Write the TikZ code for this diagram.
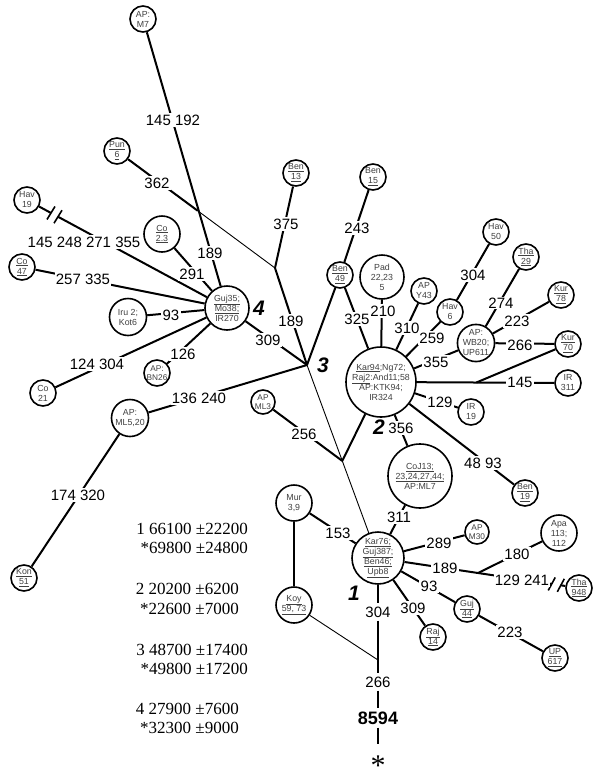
\documentclass[tikz,border=0pt]{standalone}
\usepackage{fontspec}
\setmainfont{Liberation Sans}
\newfontfamily\seriffam{Liberation Serif}
\usetikzlibrary{calc}
\tikzset{
  hap/.style={circle, draw, line width=1.6pt, fill=white, inner sep=0pt, align=center,
    font=\fontsize{8.8}{10}\selectfont, text=black!75},
  sm/.style={hap, minimum size=26pt},
  lbl/.style={fill=white, inner sep=1.2pt, font=\fontsize{15}{16}\selectfont},
  vlbl/.style={inner sep=3pt, font=\fontsize{15}{16}\selectfont},
  edge/.style={line width=2pt},
  thinedge/.style={line width=0.9pt},
  brk/.style={line width=1.6pt},
  hublbl/.style={inner sep=0pt, font=\fontsize{21}{21}\bfseries\itshape\selectfont},
  est/.style={anchor=base east, inner sep=0pt, font=\seriffam\fontsize{17}{20}\selectfont}
}
\begin{document}
\begin{tikzpicture}[x=1pt,y=-1pt]
\useasboundingbox (0,0) rectangle (600,782);

% ---------- haplotype circles ----------
\node[sm] (apm7) at (143,19) {AP:\\M7};
\node[sm] (pun6) at (117,151) {\underline{Pun}\\\underline{6}};
\node[sm] (ben13) at (296,173) {\underline{Ben}\\\underline{13}};
\node[sm] (ben15) at (373,177) {Ben\\\underline{15}};
\node[sm] (hav19) at (27,200) {Hav\\19};
\node[hap, minimum size=36pt] (co23) at (162,234) {\underline{Co}\\\underline{2.3}};
\node[sm] (co47) at (22,267) {\underline{Co}\\\underline{47}};
\node[hap, minimum size=37pt] (iru) at (128,317) {Iru 2;\\Kot6};
\node[sm, font=\fontsize{8.3}{9.6}\selectfont] (bn26) at (157,373) {AP:\\BN26};
\node[sm] (co21) at (43,393) {Co\\21};
\node[hap, minimum size=37pt] (ml520) at (130,418) {AP:\\ML5,20};
\node[sm] (kon51) at (24,578) {\underline{Kon}\\\underline{51}};
\node[hap, minimum size=44pt] (guj35) at (227,308) {\underline{Guj35;}\\\underline{Mo38;}\\IR270};
\node[sm] (ben49) at (340,275) {\underline{Ben}\\\underline{49}};
\node[hap, minimum size=44pt] (pad) at (382,277) {Pad\\22,23\\5};
\node[sm] (apy43) at (424,291) {AP\\Y43};
\node[sm] (hav6) at (450,312) {Hav\\6};
\node[sm] (hav50) at (496,232) {Hav\\50};
\node[sm] (tha29) at (526,257) {\underline{Tha}\\\underline{29}};
\node[sm] (kur78) at (561,295) {\underline{Kur}\\\underline{78}};
\node[hap, minimum size=37pt] (wb20) at (476,343) {AP:\\WB20;\\UP611};
\node[sm] (kur70) at (568,344) {\underline{Kur}\\\underline{70}};
\node[sm] (ir311) at (568,383) {IR\\311};
\node[hap, minimum size=70pt] (kar94) at (381,382) {\underline{Kar94};Ng72;\\\underline{Raj2}:And11;58\\AP:KTK94;\\IR324};
\node[sm] (ir19) at (471,412) {IR\\19};
\node[sm] (ben19) at (525,493) {\underline{Ben}\\\underline{19}};
\node[hap, minimum size=64pt] (coj13) at (420,476) {\underline{CoJ13;}\\\underline{23,24,27,44;}\\AP:ML7};
\node[sm, minimum size=24pt, font=\fontsize{8.3}{9.6}\selectfont] (ml3) at (263,402) {AP\\ML3};
\node[hap, minimum size=36pt] (mur) at (294,503) {Mur\\3,9};
\node[hap, minimum size=36pt] (koy) at (294,605) {\underline{Koy}\\\underline{59, 73}};
\node[hap, minimum size=52pt] (kar76) at (378,558) {\underline{Kar76;}\\\underline{Guj387;}\\\underline{Ben46;}\\\underline{Upb8}};
\node[sm, minimum size=24pt, font=\fontsize{8.3}{9.6}\selectfont] (m30) at (477,532) {AP\\M30};
\node[hap, minimum size=36pt] (apa) at (559,533) {Apa\\113;\\112};
\node[sm] (tha948) at (579,588) {\underline{Tha}\\\underline{948}};
\node[sm] (guj44) at (467,609) {\underline{Guj}\\\underline{44}};
\node[sm] (up617) at (555,658) {\underline{UP}\\\underline{617}};
\node[sm] (raj14) at (433,637) {\underline{Raj}\\\underline{14}};

% ---------- vertical root chain labels ----------
\node[vlbl] (l304) at (378,612) {304};
\node[vlbl] (l266) at (378,682) {266};
\node[vlbl, font=\fontsize{18}{20}\bfseries\selectfont] (l8594) at (378,718) {8594};
\node[anchor=base, inner sep=0pt, font=\seriffam\fontsize{30}{30}\selectfont] (star) at (378,775) {*};

% ---------- junction points ----------
\coordinate (hub3) at (307,365);
\coordinate (j375) at (275,268);
\coordinate (j2) at ($(hub3)!0.497!(kar76)$);
\coordinate (k145) at ($(kar94)!0.51!(ir311)$);
\coordinate (j1) at (478,573);
\coordinate (kv) at (378,660);
\coordinate (cross) at ($(pun6)!0.51!(j375)$);
\coordinate (hb1) at ($(hav19)!0.12!(guj35)$);
\coordinate (hb2) at ($(hav19)!0.155!(guj35)$);
\coordinate (tb1) at ($(j1)!0.73!(tha948)$);
\coordinate (tb2) at ($(j1)!0.82!(tha948)$);

% ---------- connectors ----------
\draw[thinedge] (pun6) -- (j375);
\draw[edge] (pun6) -- (cross);
\draw[edge] (apm7) -- (guj35);
\draw[edge] (ben13) -- (j375);
\draw[edge] (j375) -- (hub3);
\draw[edge] (guj35) -- (hub3);
\draw[edge] (ben49) -- (hub3);
\draw[edge] (ml520) -- (hub3);
\draw[edge] (ben15) -- (ben49);
\draw[edge] (ben49) -- (kar94);
\draw[edge] (pad) -- (kar94);
\draw[edge] (apy43) -- (kar94);
\draw[edge] (hav6) -- (kar94);
\draw[edge] (hav50) -- (hav6);
\draw[edge] (tha29) -- (wb20);
\draw[edge] (kur78) -- (wb20);
\draw[edge] (wb20) -- (kur70);
\draw[edge] (wb20) -- (kar94);
\draw[edge] (kar94) -- (ir311);
\draw[edge] (kur70) -- (k145);
\draw[edge] (kar94) -- (ir19);
\draw[edge] (kar94) -- (ben19);
\draw[edge] (kar94) -- (coj13);
\draw[edge] (kar94) -- (j2);
\draw[edge] (ml3) -- (j2);
\draw[edge] (coj13) -- (kar76);
\draw[thinedge] (hub3) -- (kar76);
\draw[edge] (hav19) -- (hb1);
\draw[edge] (hb2) -- (guj35);
\draw[brk] ($(hb1)+(-4,6.5)$) -- ($(hb1)+(4,-6.5)$);
\draw[brk] ($(hb2)+(-4,6.5)$) -- ($(hb2)+(4,-6.5)$);
\draw[edge] (co23) -- (guj35);
\draw[edge] (co47) -- (guj35);
\draw[edge] (iru) -- (guj35);
\draw[edge] (bn26) -- (guj35);
\draw[edge] (co21) -- (guj35);
\draw[edge] (ml520) -- (kon51);
\draw[edge] (mur) -- (kar76);
\draw[edge] (mur) -- (koy);
\draw[thinedge] (koy) -- (kv);
\draw[edge] (kar76) -- (l304);
\draw[edge] (l304) -- (l266);
\draw[edge] (l266) -- (l8594);
\draw[edge, shorten >=11pt] (l8594) -- (star);
\draw[edge] (kar76) -- (m30);
\draw[edge] (kar76) -- (j1);
\draw[edge] (j1) -- (apa);
\draw[edge] (j1) -- (tb1);
\draw[edge] (tb2) -- (tha948);
\draw[brk] ($(tb1)+(-3.5,6.5)$) -- ($(tb1)+(3.5,-6.5)$);
\draw[brk] ($(tb2)+(-3.5,6.5)$) -- ($(tb2)+(3.5,-6.5)$);
\draw[edge] (kar76) -- (guj44);
\draw[edge] (guj44) -- (up617);
\draw[edge] (kar76) -- (raj14);

% ---------- mutation labels ----------
\node[lbl] (l145192) at (173,120) {145 192};
\node[lbl] (l362) at (157,183) {362};
\node[lbl] (l189a) at (210,253) {189};
\node[lbl] (l375) at (286,224) {375};
\node[lbl] (l189b) at (291,321) {189};
\node[lbl] (l309a) at (268,340) {309};
\node[lbl] (l243) at (357,228) {243};
\node[lbl] (l325) at (357,319) {325};
\node[lbl] (l210) at (383,311) {210};
\node[lbl] (l310) at (407,328) {310};
\node[lbl] (l259) at (432,338) {259};
\node[lbl] (l304a) at (473,275) {304};
\node[lbl] (l274) at (501,303) {274};
\node[lbl] (l223a) at (517,321) {223};
\node[lbl] (l266a) at (520,345) {266};
\node[lbl] (l355a) at (436,362) {355};
\node[lbl] (l145) at (520,382) {145};
\node[lbl] (l129) at (440,402) {129};
\node[lbl] (l4893) at (483,463) {48 93};
\node[lbl] (l356) at (401,428) {356};
\node[lbl] (l311) at (399,517) {311};
\node[lbl] (l256) at (304,434) {256};
\node[lbl] (l136240) at (199,398) {136 240};
\node[lbl] (l124304) at (97,364) {124 304};
\node[lbl] (l126) at (183,354) {126};
\node[lbl] (l93a) at (171,315) {93};
\node[lbl] (l257335) at (83,279) {257 335};
\node[lbl] (l291) at (192,274) {291};
\node[lbl] (l145248) at (84,242) {145 248 271 355};
\node[lbl] (l174320) at (78,495) {174 320};
\node[lbl] (l153) at (338,533) {153};
\node[lbl] (l289) at (439,543) {289};
\node[lbl] (l189c) at (445,568) {189};
\node[lbl] (l180) at (517,554) {180};
\node[lbl] (l129241) at (522,580) {129 241};
\node[lbl] (l93b) at (429,586) {93};
\node[lbl] (l309b) at (413,608) {309};
\node[lbl] (l223b) at (510,632) {223};

% ---------- cluster numbers ----------
\node[hublbl] (h1) at (354,593) {1};
\node[hublbl] (h2) at (379,427) {2};
\node[hublbl] (h3) at (323,365) {3};
\node[hublbl] (h4) at (259,308) {4};

% ---------- age estimates ----------
\node[est] (e1a) at (248,534) {1 66100 ±22200};
\node[est] (e1b) at (248,553) {*69800 ±24800};
\node[est] (e2a) at (239,594) {2 20200 ±6200};
\node[est] (e2b) at (239,614) {*22600 ±7000};
\node[est] (e3a) at (248,655) {3 48700 ±17400};
\node[est] (e3b) at (248,674) {*49800 ±17200};
\node[est] (e4a) at (239,714) {4 27900 ±7600};
\node[est] (e4b) at (239,733) {*32300 ±9000};
\end{tikzpicture}
\end{document}
